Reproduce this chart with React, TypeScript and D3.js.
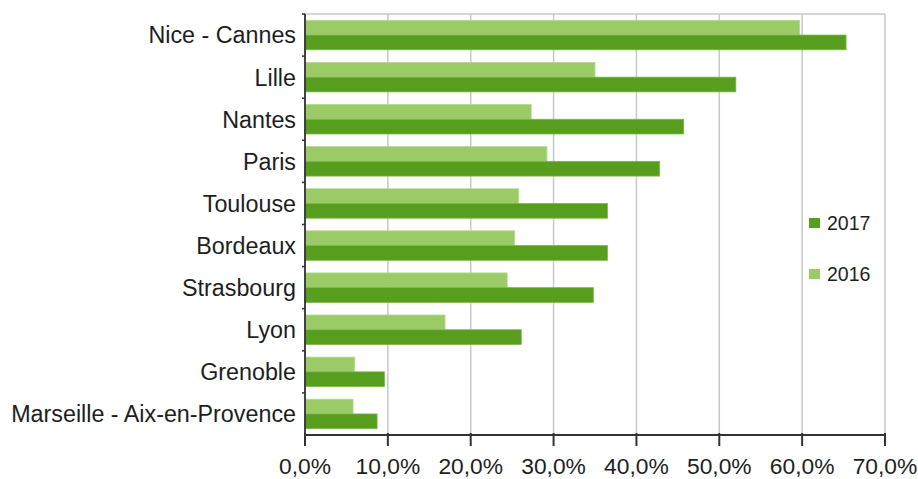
import React from "react";
import * as d3 from "d3";

const categories = [
  "Nice - Cannes",
  "Lille",
  "Nantes",
  "Paris",
  "Toulouse",
  "Bordeaux",
  "Strasbourg",
  "Lyon",
  "Grenoble",
  "Marseille - Aix-en-Provence",
];
const series = ["2016", "2017"];
const values2016 = [59.7, 35.0, 27.3, 29.2, 25.8, 25.3, 24.4, 16.9, 6.0, 5.8];
const values2017 = [65.3, 52.0, 45.7, 42.8, 36.5, 36.5, 34.8, 26.1, 9.6, 8.7];
const xTicks = [0, 10, 20, 30, 40, 50, 60, 70];
const legendOrder = ["2017", "2016"];

const colors: Record<string, string> = { "2016": "#9acb66", "2017": "#579d1e" };
const strokes: Record<string, string> = { "2016": "#b4dc8c", "2017": "#7ab84a" };

const W = 918;
const H = 479;
const left = 305;
const right = 885;
const top = 14;
const bottom = 435;
const FONT = "'Liberation Sans', Arial, Helvetica, sans-serif";

export default function App() {
  const x = d3.scaleLinear().domain([0, 70]).range([left, right]);
  const y = d3.scaleBand<string>().domain(categories).range([top, bottom]).paddingInner(0);
  const bw = y.bandwidth();
  const sub = d3
    .scaleBand<string>()
    .domain(series)
    .range([bw * 0.15, bw * 0.85]);
  const dataBy: Record<string, number[]> = { "2016": values2016, "2017": values2017 };
  const fmt = (v: number) => d3.format(".1f")(v).replace(".", ",") + "%";

  return (
    <svg
      width={W}
      height={H}
      style={{ position: "absolute", left: 0, top: 0, background: "#fff" }}
      fontFamily={FONT}
    >
      {/* gridlines */}
      {xTicks.map((t) => (
        <line
          key={"g" + t}
          x1={x(t)}
          x2={x(t)}
          y1={top}
          y2={bottom}
          stroke="#c8c8c8"
          strokeWidth={1.5}
        />
      ))}
      {/* top border */}
      <line x1={left} x2={right} y1={top} y2={top} stroke="#c8c8c8" strokeWidth={1.5} />
      {/* bars */}
      {categories.map((c, i) =>
        series.map((s) => (
          <rect
            key={c + s}
            x={x(0)}
            y={(y(c) as number) + (sub(s) as number)}
            width={x(dataBy[s][i]) - x(0)}
            height={sub.bandwidth()}
            fill={colors[s]}
            stroke={strokes[s]}
            strokeWidth={0.8}
          />
        ))
      )}
      {/* left axis */}
      <line x1={left} x2={left} y1={top} y2={bottom} stroke="#333" strokeWidth={1.8} />
      {categories.map((c) => (
        <line
          key={"lt" + c}
          x1={left - 3}
          x2={left}
          y1={y(c) as number}
          y2={y(c) as number}
          stroke="#333"
          strokeWidth={1.5}
        />
      ))}
      {/* bottom axis */}
      <line x1={left} x2={right} y1={bottom} y2={bottom} stroke="#333" strokeWidth={2} />
      {xTicks.map((t) => (
        <g key={"t" + t}>
          <line x1={x(t)} x2={x(t)} y1={bottom - 2} y2={bottom + 11} stroke="#333" strokeWidth={2} />
          <text x={x(t)} y={474} textAnchor="middle" fontSize={22.8} fill="#1e1e1e">
            {fmt(t)}
          </text>
        </g>
      ))}
      {/* category labels */}
      {categories.map((c) => (
        <text
          key={"c" + c}
          x={296}
          y={(y(c) as number) + bw / 2}
          dy="0.36em"
          textAnchor="end"
          fontSize={23.3}
          fill="#1e1e1e"
        >
          {c}
        </text>
      ))}
      {/* legend */}
      {legendOrder.map((s, i) => (
        <g key={"l" + s} transform={`translate(809, ${223 + i * 51})`}>
          <rect x={0} y={-5} width={11} height={10} fill={colors[s]} />
          <text x={18} y={0} dy="0.36em" fontSize={19.5} fill="#1e1e1e">
            {s}
          </text>
        </g>
      ))}
    </svg>
  );
}
